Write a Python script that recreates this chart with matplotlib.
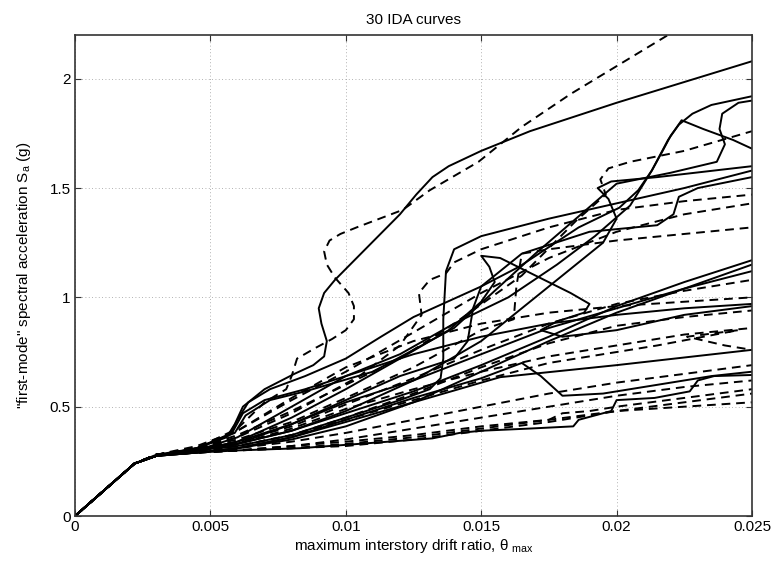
import matplotlib
matplotlib.use("Agg")
import matplotlib.pyplot as plt

plt.rcParams["font.family"] = ["Liberation Sans", "DejaVu Sans"]
plt.rcParams["mathtext.fontset"] = "custom"
plt.rcParams["mathtext.rm"] = "Liberation Sans"
plt.rcParams["mathtext.it"] = "Liberation Sans:italic"

# common drift grid (theta_max) used by the smoother curves
grid_x = [0, .0022, .003, .0045, .006, .008, .010, .0125, .015, .0175, .020, .0225, .025]

# ---- solid records ----
s01_x = [0, .0022, .003, .0045, .0056, .0059, .0062, .0070, .0081, .0088, .0092, .0093,
         .0091, .0090, .0092, .0096, .0104, .0112, .0120, .0126, .0132, .0138, .0150,
         .0168, .0200, .0250]
s01_y = [0, .24, .28, .31, .36, .42, .50, .58, .65, .69, .73, .80,
         .88, .95, 1.02, 1.08, 1.18, 1.28, 1.38, 1.47, 1.55, 1.60, 1.67,
         1.76, 1.89, 2.08]
s02_x = [0, .0022, .003, .0045, .0057, .0060, .0064, .0072, .0085, .0100, .0113, .0125,
         .0150, .0164, .0186, .0201, .0208, .0213, .0217, .0220, .0223, .0228, .0235, .0250]
s02_y = [0, .24, .275, .31, .37, .44, .52, .58, .64, .72, .82, .91,
         1.05, 1.14, 1.32, 1.41, 1.49, 1.58, 1.67, 1.74, 1.79, 1.84, 1.88, 1.92]
s03_x = [0, .0022, .003, .0045, .0058, .0062, .0070, .0085, .010, .012, .014, .0160,
         .0178, .0192, .0205, .0213, .0219, .0224, .0232, .0243, .0250]
s03_y = [0, .24, .275, .31, .38, .47, .53, .58, .64, .74, .88, 1.00,
         1.15, 1.28, 1.42, 1.58, 1.72, 1.81, 1.77, 1.72, 1.68]
s04_x = [0, .0022, .003, .0045, .0059, .0063, .0072, .0085, .011, .014, .0170, .0200,
         .0220, .0237, .0240, .0238, .0239, .0245, .0250]
s04_y = [0, .24, .275, .31, .38, .46, .53, .57, .66, .86, 1.20, 1.52,
         1.57, 1.62, 1.70, 1.77, 1.84, 1.89, 1.90]
s05_x = [0, .0022, .003, .0045, .006, .008, .010, .0120, .0131, .0135, .0136, .0136,
         .0137, .0140, .0150, .0175, .0200, .0225, .0250]
s05_y = [0, .24, .275, .30, .32, .37, .45, .53, .58, .63, .72, .90,
         1.12, 1.22, 1.28, 1.36, 1.43, 1.50, 1.58]
s06_x = [0, .0022, .003, .0045, .006, .008, .010, .012, .0140, .0145, .0147, .0150,
         .0165, .0190, .0215, .0221, .0223, .0230, .0250]
s06_y = [0, .24, .275, .30, .33, .42, .53, .64, .72, .80, .95, 1.05,
         1.20, 1.30, 1.33, 1.38, 1.46, 1.50, 1.55]
s07_x = [0, .0022, .003, .0045, .006, .008, .010, .0120, .0138, .0150, .0155, .0153,
         .0150, .0157, .0170, .0183, .0190, .0188, .0178, .0172, .0180, .0200, .0225, .0250]
s07_y = [0, .24, .275, .30, .34, .45, .58, .72, .85, .98, 1.07, 1.14,
         1.19, 1.18, 1.10, 1.02, .97, .93, .89, .85, .82, .85, .92, .96]
s08_x = [0, .0022, .003, .0045, .006, .008, .010, .0125, .0150, .0175, .0195, .0200,
         .0197, .0193, .0198, .0215, .0250]
s08_y = [0, .24, .275, .30, .33, .39, .48, .62, .80, 1.05, 1.25, 1.36,
         1.45, 1.50, 1.53, 1.55, 1.60]
s09_y = [0, .24, .275, .30, .33, .39, .47, .57, .69, .82, .96, 1.07, 1.17]
s10_y = [0, .24, .275, .29, .31, .35, .41, .52, .66, .80, .93, 1.04, 1.15]
s11_y = [0, .24, .275, .30, .34, .42, .52, .62, .74, .86, .95, 1.04, 1.12]
s12_x = [0, .0022, .003, .0045, .006, .008, .010, .0125, .0157, .020, .0250]
s12_y = [0, .24, .275, .29, .31, .36, .43, .52, .635, .69, .76]
s13_x = [0, .0022, .003, .0045, .006, .0083, .0105, .0132, .0142, .0150, .0168, .0184,
         .0186, .0198, .0200, .0214, .0227, .0230, .0236, .0250]
s13_y = [0, .24, .275, .29, .30, .31, .33, .355, .38, .39, .40, .41,
         .44, .48, .53, .54, .57, .62, .64, .645]
s14_x = [0, .0022, .003, .0045, .006, .008, .010, .0125, .0150, .0165, .0172, .0180,
         .0195, .0215, .0235, .0250]
s14_y = [0, .24, .275, .29, .31, .36, .44, .54, .63, .70, .64, .55,
         .56, .60, .64, .66]
s15_y = [0, .24, .275, .30, .36, .50, .64, .74, .82, .88, .92, .95, .97]

# ---- dashed records ----
d01_x = [0, .0022, .003, .0045, .0060, .0070, .0078, .0080, .0082, .0089, .0095, .0100,
         .0103, .0103, .0101, .0096, .0093, .0092, .0094, .0098, .0104, .0121, .0131,
         .0149, .0165, .0183, .0219]
d01_y = [0, .24, .28, .31, .40, .52, .58, .64, .72, .77, .81, .85,
         .90, .96, 1.02, 1.09, 1.15, 1.21, 1.26, 1.29, 1.32, 1.40, 1.49,
         1.62, 1.78, 1.93, 2.20]
d02_x = [0, .0022, .003, .0045, .006, .008, .010, .012, .014, .0165, .0185, .0196,
         .0194, .0197, .0205, .0225, .0250]
d02_y = [0, .24, .28, .31, .37, .48, .60, .72, .88, 1.10, 1.35, 1.47,
         1.54, 1.59, 1.62, 1.67, 1.76]
d03_x = [0, .0022, .003, .0045, .006, .008, .0105, .0120, .0128, .0127, .0131, .0137,
         .0140, .0150, .0175, .0200, .0225, .0250]
d03_y = [0, .24, .28, .31, .36, .47, .64, .78, .92, 1.02, 1.08, 1.11,
         1.16, 1.22, 1.32, 1.40, 1.44, 1.47]
d04_y = [0, .24, .28, .31, .39, .53, .66, .84, 1.02, 1.18, 1.30, 1.38, 1.43]
d05_x = [0, .0022, .003, .0045, .006, .008, .010, .0125, .0150, .0162, .0163, .0165,
         .0175, .0200, .0225, .0250]
d05_y = [0, .24, .28, .31, .35, .43, .54, .68, .85, .90, 1.05, 1.20,
         1.22, 1.26, 1.29, 1.32]
d06_y = [0, .24, .28, .31, .34, .41, .51, .63, .76, .88, .97, 1.03, 1.08]
d07_y = [0, .24, .28, .30, .32, .37, .45, .56, .68, .79, .87, .91, .94]
d08_x = [0, .0022, .003, .0045, .006, .008, .010, .0125, .015, .0175, .020, .0215,
         .0245, .0226, .0240, .0250]
d08_y = [0, .24, .28, .30, .32, .37, .44, .53, .62, .70, .75, .78,
         .85, .82, .78, .76]
d09_y = [0, .24, .28, .30, .31, .34, .38, .44, .50, .56, .61, .65, .69]
d10_y = [0, .24, .28, .29, .30, .32, .35, .40, .45, .50, .55, .59, .62]
d11_x = [0, .0022, .003, .0045, .006, .008, .010, .0125, .015, .0175, .0180, .0190,
         .020, .0225, .025]
d11_y = [0, .24, .28, .29, .30, .32, .34, .37, .41, .44, .47, .48,
         .50, .54, .58]
d12_y = [0, .24, .28, .29, .30, .31, .33, .36, .40, .44, .48, .52, .56]
d13_y = [0, .24, .28, .29, .30, .31, .32, .35, .39, .43, .48, .50, .52]
d14_y = [0, .24, .28, .30, .33, .40, .49, .58, .66, .73, .78, .83, .86]
d15_y = [0, .24, .28, .32, .39, .54, .68, .80, .88, .93, .96, .98, 1.00]

solid = [(s01_x, s01_y), (s02_x, s02_y), (s03_x, s03_y), (s04_x, s04_y),
         (s05_x, s05_y), (s06_x, s06_y), (s07_x, s07_y), (s08_x, s08_y),
         (grid_x, s09_y), (grid_x, s10_y), (grid_x, s11_y), (s12_x, s12_y),
         (s13_x, s13_y), (s14_x, s14_y), (grid_x, s15_y)]
dashed = [(d01_x, d01_y), (d02_x, d02_y), (d03_x, d03_y), (grid_x, d04_y),
          (d05_x, d05_y), (grid_x, d06_y), (grid_x, d07_y), (d08_x, d08_y),
          (grid_x, d09_y), (grid_x, d10_y), (d11_x, d11_y), (grid_x, d12_y),
          (grid_x, d13_y), (grid_x, d14_y), (grid_x, d15_y)]

fig = plt.figure(figsize=(7.75, 5.65), dpi=100)
ax = fig.add_axes([75 / 775, 49 / 565, 677 / 775, 481 / 565])

for x, y in solid:
    ax.plot(x, y, "-", color="black", lw=1.4, solid_joinstyle="round")
for x, y in dashed:
    ax.plot(x, y, color="black", lw=1.4, linestyle=(0, (4.5, 3)))

ax.set_xlim(0, 0.025)
ax.set_ylim(0, 2.2)
ax.set_xticks([0, 0.005, 0.01, 0.015, 0.02, 0.025])
ax.set_xticklabels(["0", "0.005", "0.01", "0.015", "0.02", "0.025"])
ax.set_yticks([0, 0.5, 1, 1.5, 2])
ax.set_yticklabels(["0", "0.5", "1", "1.5", "2"])
ax.tick_params(direction="in", top=True, right=True, labelsize=11, length=4, pad=3,
               color="#333333")
ax.grid(True, linestyle=(0, (1, 3)), color="#999999", lw=0.6)
for sp in ax.spines.values():
    sp.set_linewidth(1.2)
    sp.set_color("#333333")

ax.set_title("30 IDA curves", fontsize=11, pad=8)
ax.set_xlabel("maximum interstory drift ratio, θ $_{\\mathrm{max}}$", fontsize=11, labelpad=2)
ax.set_ylabel('"first-mode" spectral acceleration S$_{\\mathrm{a}}$ (g)', fontsize=11, labelpad=12)

fig.savefig("out.png", dpi=100)
